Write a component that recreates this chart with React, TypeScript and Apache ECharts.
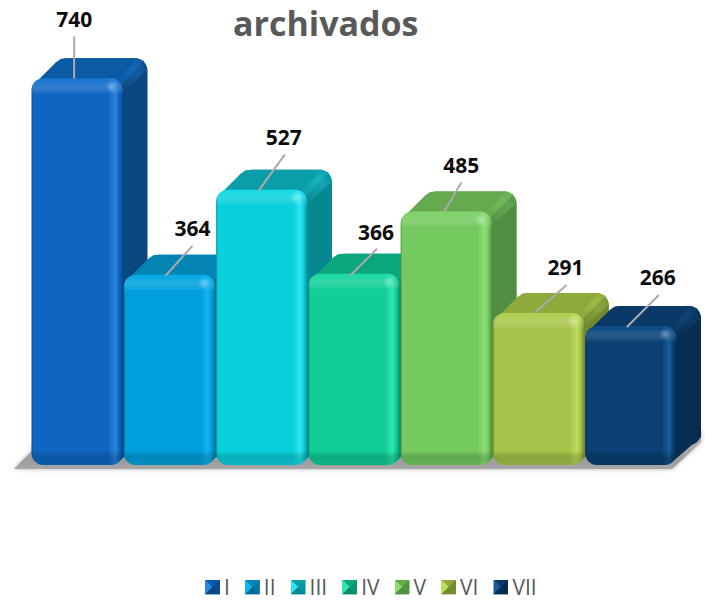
import React, { useEffect, useRef } from "react";
import * as echarts from "echarts";

const categories = ["I", "II", "III", "IV", "V", "VI", "VII"];
const values = [740, 364, 527, 366, 485, 291, 266];
const frontColors = ["#0F66C2", "#009FDB", "#0ACFDC", "#10CE96", "#74C95F", "#A6C34A", "#0A4074"];
const lightColors = ["#2B86E0", "#12B4F0", "#2FE6F0", "#2FE6B0", "#8FDD78", "#C0DC5E", "#185C98"];
const edgeColors = ["#0A4A90", "#06769F", "#07949E", "#0A946E", "#4F9440", "#748C30", "#062C50"];
const topColors = ["#0A5AA6", "#0484B4", "#0A9EA8", "#0CA67C", "#66AA50", "#8FAA3C", "#0A3968"];
const sideColors = ["#0A477F", "#046C94", "#068892", "#0A8A68", "#4F8E43", "#6F8A30", "#062C50"];
// leader-line and label placement relative to each bar's top-centre
const lineStart = [[-3, -42], [23, -29], [23, -35], [23, -25], [15, -29], [28, -28], [28, -31]];
const lineEnd = [[-3, 0], [-4, 1], [-3, 1], [-4, 2], [-2, 0], [-4, 0], [-4, 1]];
const textOffset = [[-3, -59], [23, -47], [22, -53], [22, -42], [15, -47], [27, -46], [27, -49]];

const DX = 24;
const DY = 20;
const FONT = "'Open Sans', Lato, sans-serif";

function icon(i: number) {
  const svg = `<svg xmlns="http://www.w3.org/2000/svg" width="15" height="15"><rect width="15" height="15" fill="${frontColors[i]}"/><polygon points="0,0 15,0 7.5,7.5" fill="${topColors[i]}"/><polygon points="0,0 0,15 7.5,7.5" fill="${lightColors[i]}"/><polygon points="15,0 15,15 7.5,7.5" fill="${edgeColors[i]}"/><polygon points="0,15 15,15 7.5,7.5" fill="${sideColors[i]}"/></svg>`;
  return "image://data:image/svg+xml;charset=utf-8," + encodeURIComponent(svg);
}

function renderBar(idx: number) {
  return (_params: any, api: any) => {
    const top = api.coord([api.value(0), api.value(1)]);
    const base = api.coord([api.value(0), 0]);
    const w = api.size([1, 0])[0];
    const x = top[0] - w / 2;
    const y = top[1];
    const h = base[1] - y;
    const cx = top[0];
    const r = 12;
    const bandV = (px: number) => Math.min(1, px / h);
    return {
      type: "group",
      children: [
        {
          type: "rect",
          shape: { x: x + DX, y: y - DY, width: w, height: h, r },
          style: { fill: sideColors[idx] },
        },
        {
          type: "polygon",
          shape: { points: [[x + w - 6, y + 4], [x + w + DX, y - DY + 10], [x + w + DX, base[1] - DY - 8], [x + w - 6, base[1] - 2]] },
          style: { fill: sideColors[idx] },
        },
        {
          type: "polygon",
          shape: { points: [[x + 1, y + 8], [x + DX + 1, y - DY + 4], [x + DX + 6, y - DY + 0.5], [x + DX + 12, y - DY], [x + w + DX - 10, y - DY], [x + w + DX - 3, y - DY + 3], [x + w - 4, y + 8]] },
          style: { fill: topColors[idx] },
        },
        {
          type: "polygon",
          shape: { points: [[x + w - 6, y + 2], [x + w + DX - 10, y - DY], [x + w + DX - 3, y - DY + 3], [x + w + DX, y - DY + 12], [x + w + 1, y + 12]] },
          style: {
            fill: new echarts.graphic.LinearGradient(0, 1, 1, 0, [
              { offset: 0, color: sideColors[idx] },
              { offset: 0.6, color: lightColors[idx] },
              { offset: 1, color: topColors[idx] },
            ]),
            opacity: 0.3,
          },
        },
        {
          type: "rect",
          shape: { x: x + 0.5, y, width: w - 1, height: h, r },
          style: {
            fill: new echarts.graphic.LinearGradient(0, 0, 1, 0, [
              { offset: 0, color: edgeColors[idx] },
              { offset: 0.02, color: frontColors[idx] },
              { offset: 0.84, color: frontColors[idx] },
              { offset: 0.92, color: lightColors[idx] },
              { offset: 0.96, color: frontColors[idx] },
              { offset: 1, color: edgeColors[idx] },
            ]),
          },
        },
        {
          type: "rect",
          shape: { x: x + 0.5, y, width: w - 1, height: h, r },
          style: {
            fill: new echarts.graphic.LinearGradient(0, 0, 0, 1, [
              { offset: 0, color: lightColors[idx] },
              { offset: bandV(3), color: lightColors[idx] },
              { offset: bandV(16), color: "rgba(255,255,255,0)" },
              { offset: 1 - bandV(14), color: "rgba(0,0,0,0)" },
              { offset: 1 - bandV(3), color: edgeColors[idx] },
              { offset: 1, color: edgeColors[idx] },
            ]),
            opacity: 0.45,
          },
        },
        {
          type: "circle",
          shape: { cx: x + w - 12, cy: y + 8, r: 6 },
          style: {
            fill: new echarts.graphic.RadialGradient(0.5, 0.5, 0.5, [
              { offset: 0, color: "rgba(255,255,255,0.3)" },
              { offset: 1, color: "rgba(255,255,255,0)" },
            ]),
          },
        },
        {
          type: "line",
          shape: {
            x1: cx + lineStart[idx][0], y1: y + lineStart[idx][1],
            x2: cx + lineEnd[idx][0], y2: y + lineEnd[idx][1],
          },
          style: { stroke: "#ABABAB", lineWidth: 2 },
        },
        {
          type: "text",
          x: cx + textOffset[idx][0],
          y: y + textOffset[idx][1],
          style: {
            text: String(values[idx]),
            fill: "#0D0D0D",
            font: `bold 21px ${FONT}`,
            align: "center",
            verticalAlign: "middle",
          },
        },
      ],
    };
  };
}

export default function App() {
  const ref = useRef<HTMLDivElement>(null);
  useEffect(() => {
    document.body.style.margin = "0";
    const chart = echarts.init(ref.current!, undefined, { renderer: "svg" });
    chart.setOption({
      animation: false,
      backgroundColor: "#FFFFFF",
      title: {
        text: "archivados",
        left: 233,
        top: 2,
        padding: 0,
        textStyle: { color: "#595959", fontFamily: FONT, fontWeight: "bold", fontSize: 34, lineHeight: 42 },
      },
      grid: { left: 31, right: 28, top: 47, bottom: 136 },
      xAxis: { type: "category", data: categories, show: false },
      yAxis: { type: "value", min: 0, max: 800, show: false },
      legend: {
        top: 574,
        left: 205,
        padding: 0,
        itemWidth: 15,
        itemHeight: 15,
        itemGap: 15,
        textStyle: { color: "#595959", fontFamily: FONT, fontSize: 21, padding: [0, 0, 0, -1], lineHeight: 26, height: 26 },
        data: categories.map((name, i) => ({ name, icon: icon(i) })),
      },
      graphic: [
        {
          type: "polygon",
          z: 0,
          shape: { points: [[31, 452], [14, 469], [672, 469], [701, 442], [701, 430], [40, 430]] },
          style: {
            fill: new echarts.graphic.LinearGradient(0, 0, 0, 1, [
              { offset: 0, color: "#B8B8B8" },
              { offset: 0.8, color: "#9C9C9C" },
              { offset: 1, color: "#A8A8A8" },
            ]),
            shadowBlur: 4,
            shadowColor: "rgba(120,120,120,0.6)",
          },
        },
      ],
      series: categories.map((name, i) => ({
        type: "custom",
        name,
        z: 2 + i,
        itemStyle: { color: frontColors[i] },
        encode: { x: 0, y: 1 },
        data: [[i, values[i]]],
        renderItem: renderBar(i),
      })),
    });
    return () => chart.dispose();
  }, []);
  return <div ref={ref} style={{ width: 705, height: 601 }} />;
}
